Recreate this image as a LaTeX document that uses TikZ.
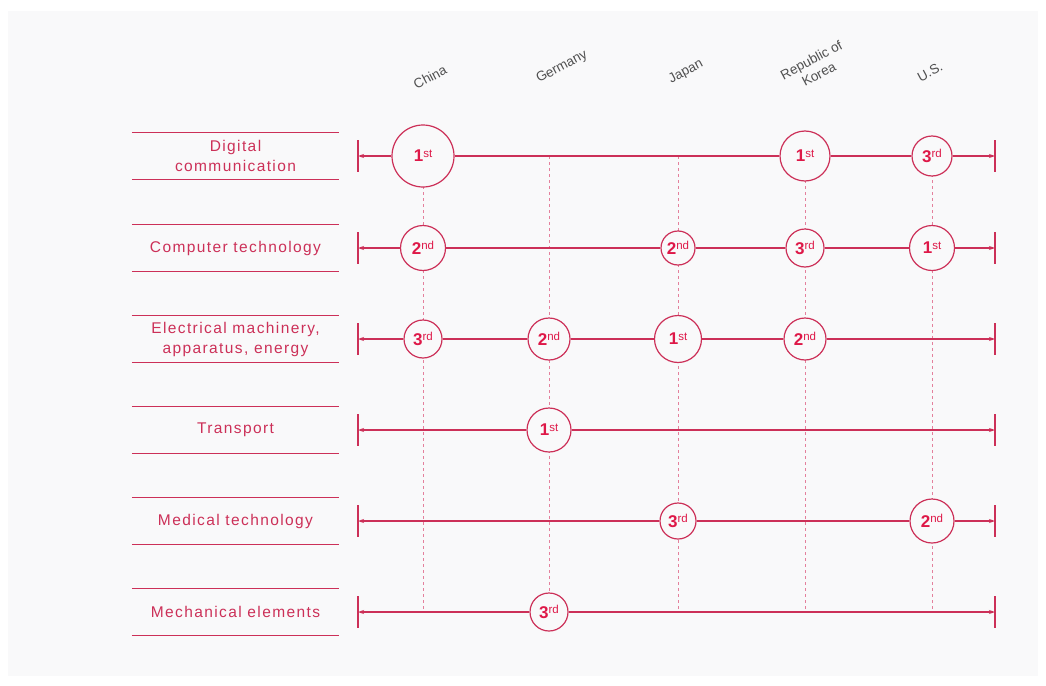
\documentclass[tikz,border=0pt]{standalone}
\usepackage{fontspec}
\setmainfont{Liberation Sans}
\newfontfamily\spacedfont[LetterSpace=9]{Liberation Sans}
\usetikzlibrary{arrows.meta}
\definecolor{panelgray}{RGB}{249, 249, 250}
\definecolor{rowred}{RGB}{204, 48, 88}
\definecolor{rankred}{RGB}{222, 24, 72}
\definecolor{dashred}{RGB}{228, 128, 156}
\definecolor{countrygray}{RGB}{80, 80, 80}

\newcommand{\rk}[2]{{\fontsize{17}{17}\selectfont\bfseries #1}{\fontsize{11.5}{12}\selectfont\raisebox{4.5pt}{#2}}}

\tikzset{
  rowline/.style={rowred, line width=1.2pt},
  rowarrow/.style={rowline, -{Stealth[length=6pt,width=4pt]}},
  endbar/.style={rowred, line width=1.5pt},
  labline/.style={rowred, line width=1.3pt},
  colline/.style={dashred, line width=0.8pt, dash pattern=on 3pt off 3pt},
  ranknode/.style={circle, draw=rowred, line width=1.2pt, fill=panelgray,
                   inner sep=0pt, minimum size=#1, text=rankred},
  rowlabel/.style={minimum width=207pt, minimum height=47pt, inner sep=0pt,
                   align=center, text=rowred,
                   font=\spacedfont\fontsize{15.5}{20}\selectfont},
  country/.style={rotate=28, text=countrygray, align=center,
                  font=\fontsize{13.5}{16}\selectfont}
}

\begin{document}
\begin{tikzpicture}[x=1pt, y=-1pt]
\useasboundingbox (0,0) rectangle (1046,685);
\fill[panelgray] (8,11) rectangle (1038,676);

% country columns
\foreach \c/\x in {chn/423, deu/549, jpn/678, kor/805, usa/932} {
  \coordinate (\c-top) at (\x,156);
  \coordinate (\c-bot) at (\x,612);
  \draw[colline] (\c-top) -- (\c-bot);
}
\node[country] (chn-name) at (430,77) {China};
\node[country] (deu-name) at (562,67) {Germany};
\node[country] (jpn-name) at (686,72) {Japan};
\node[country] (kor-name) at (815,67) {Republic of\\Korea};
\node[country] (usa-name) at (930,72) {U.S.};

% rows: end bars
\foreach \y [count=\r] in {156,248,339,430,521,612} {
  \coordinate (lb\r) at (358,\y);
  \coordinate (rb\r) at (995,\y);
  \draw[endbar] (358,\y-16) -- (358,\y+16);
  \draw[endbar] (995,\y-16) -- (995,\y+16);
}

% row labels
\node[rowlabel] (lab1) at (235.5,156) {Digital\\communication};
\node[rowlabel] (lab2) at (235.5,248) {Computer technology};
\node[rowlabel] (lab3) at (235.5,339) {Electrical machinery,\\apparatus, energy};
\node[rowlabel] (lab4) at (235.5,430) {Transport};
\node[rowlabel] (lab5) at (235.5,521) {Medical technology};
\node[rowlabel] (lab6) at (235.5,612) {Mechanical elements};
\foreach \r in {1,...,6} {
  \draw[labline] (lab\r.north west) -- (lab\r.north east);
  \draw[labline] (lab\r.south west) -- (lab\r.south east);
}

% ranks
\node[ranknode=62pt] (chn1) at (423,156) {\rk{1}{st}};
\node[ranknode=50pt] (kor1) at (805,156) {\rk{1}{st}};
\node[ranknode=40pt] (usa1) at (932,156) {\rk{3}{rd}};

\node[ranknode=45pt] (chn2) at (423,248) {\rk{2}{nd}};
\node[ranknode=34pt] (jpn2) at (678,248) {\rk{2}{nd}};
\node[ranknode=38pt] (kor2) at (805,248) {\rk{3}{rd}};
\node[ranknode=45pt] (usa2) at (932,248) {\rk{1}{st}};

\node[ranknode=38pt] (chn3) at (423,339) {\rk{3}{rd}};
\node[ranknode=42pt] (deu3) at (549,339) {\rk{2}{nd}};
\node[ranknode=47pt] (jpn3) at (678,339) {\rk{1}{st}};
\node[ranknode=42pt] (kor3) at (805,339) {\rk{2}{nd}};

\node[ranknode=44pt] (deu4) at (549,430) {\rk{1}{st}};

\node[ranknode=36pt] (jpn5) at (678,521) {\rk{3}{rd}};
\node[ranknode=44pt] (usa5) at (932,521) {\rk{2}{nd}};

\node[ranknode=38pt] (deu6) at (549,612) {\rk{3}{rd}};

% row lines
\draw[rowarrow] (chn1) -- (lb1);
\draw[rowline]  (chn1) -- (kor1) -- (usa1);
\draw[rowarrow] (usa1) -- (rb1);

\draw[rowarrow] (chn2) -- (lb2);
\draw[rowline]  (chn2) -- (jpn2) -- (kor2) -- (usa2);
\draw[rowarrow] (usa2) -- (rb2);

\draw[rowarrow] (chn3) -- (lb3);
\draw[rowline]  (chn3) -- (deu3) -- (jpn3) -- (kor3);
\draw[rowarrow] (kor3) -- (rb3);

\draw[rowarrow] (deu4) -- (lb4);
\draw[rowarrow] (deu4) -- (rb4);

\draw[rowarrow] (jpn5) -- (lb5);
\draw[rowline]  (jpn5) -- (usa5);
\draw[rowarrow] (usa5) -- (rb5);

\draw[rowarrow] (deu6) -- (lb6);
\draw[rowarrow] (deu6) -- (rb6);
\end{tikzpicture}
\end{document}
